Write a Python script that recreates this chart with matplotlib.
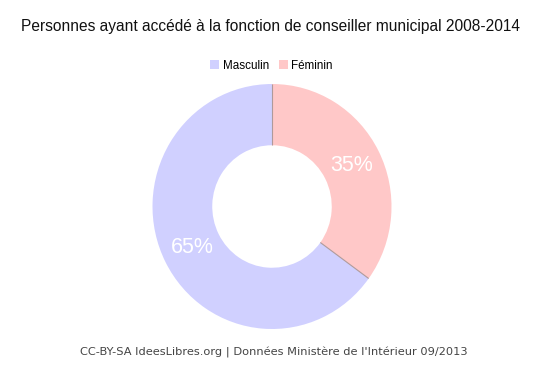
import matplotlib
matplotlib.use("Agg")
import matplotlib.pyplot as plt
from matplotlib.patches import Patch
import numpy as np

categories = ["Féminin", "Masculin"]
values = [35, 65]
colors = ["#ffc8c8", "#d0d0ff"]
legend_order = ["Masculin", "Féminin"]
title = "Personnes ayant accédé à la fonction de conseiller municipal 2008-2014"
footer = "CC-BY-SA IdeesLibres.org | Données Ministère de l'Intérieur 09/2013"

W, H = 544, 367
fig = plt.figure(figsize=(W / 100, H / 100), dpi=100)
fig.patch.set_facecolor("white")

cx, cy, Rx, Ry = 272, 206.5, 119.5, 122.5
ax = fig.add_axes([(cx - Rx) / W, (H - cy - Ry) / H, 2 * Rx / W, 2 * Ry / H])
wedges, _ = ax.pie(values, colors=colors, startangle=90, counterclock=False,
                   radius=1, wedgeprops=dict(width=0.5, edgecolor="none", linewidth=0))
ax.set_aspect("auto")
ax.set_xlim(-1, 1)
ax.set_ylim(-1, 1)
ax.axis("off")

# boundary lines and labels
total = sum(values)
ang = 90.0
for v in values:
    a = np.deg2rad(ang)
    ax.plot([0.5 * np.cos(a), np.cos(a)], [0.5 * np.sin(a), np.sin(a)],
            color="#b09a9a", lw=0.8, solid_capstyle="butt")
    mid = np.deg2rad(ang - 360 * v / total / 2)
    ax.text(0.75 * np.cos(mid), 0.74 * np.sin(mid), f"{v}%", color="white",
            fontsize=15.5, family="Liberation Sans", ha="center", va="center")
    ang -= 360 * v / total

fig.text(270.5 / W, 1 - 27 / H, title, ha="center", va="center",
         fontsize=11.2, family="Liberation Sans", color="#111111")
fig.text(274 / W, 1 - 353 / H, footer, ha="center", va="center",
         fontsize=8.2, family="DejaVu Sans", color="#444444")

handles = [Patch(facecolor=colors[categories.index(c)], edgecolor="none") for c in legend_order]
fig.legend(handles, legend_order, loc="center", bbox_to_anchor=(271.5 / W, 1 - 66 / H),
           ncol=2, frameon=False, prop=dict(family="Liberation Sans", size=8.4),
           handlelength=0.8, handleheight=0.8, handletextpad=0.3, columnspacing=0.8)

fig.savefig("out.png", dpi=100, facecolor="white")
